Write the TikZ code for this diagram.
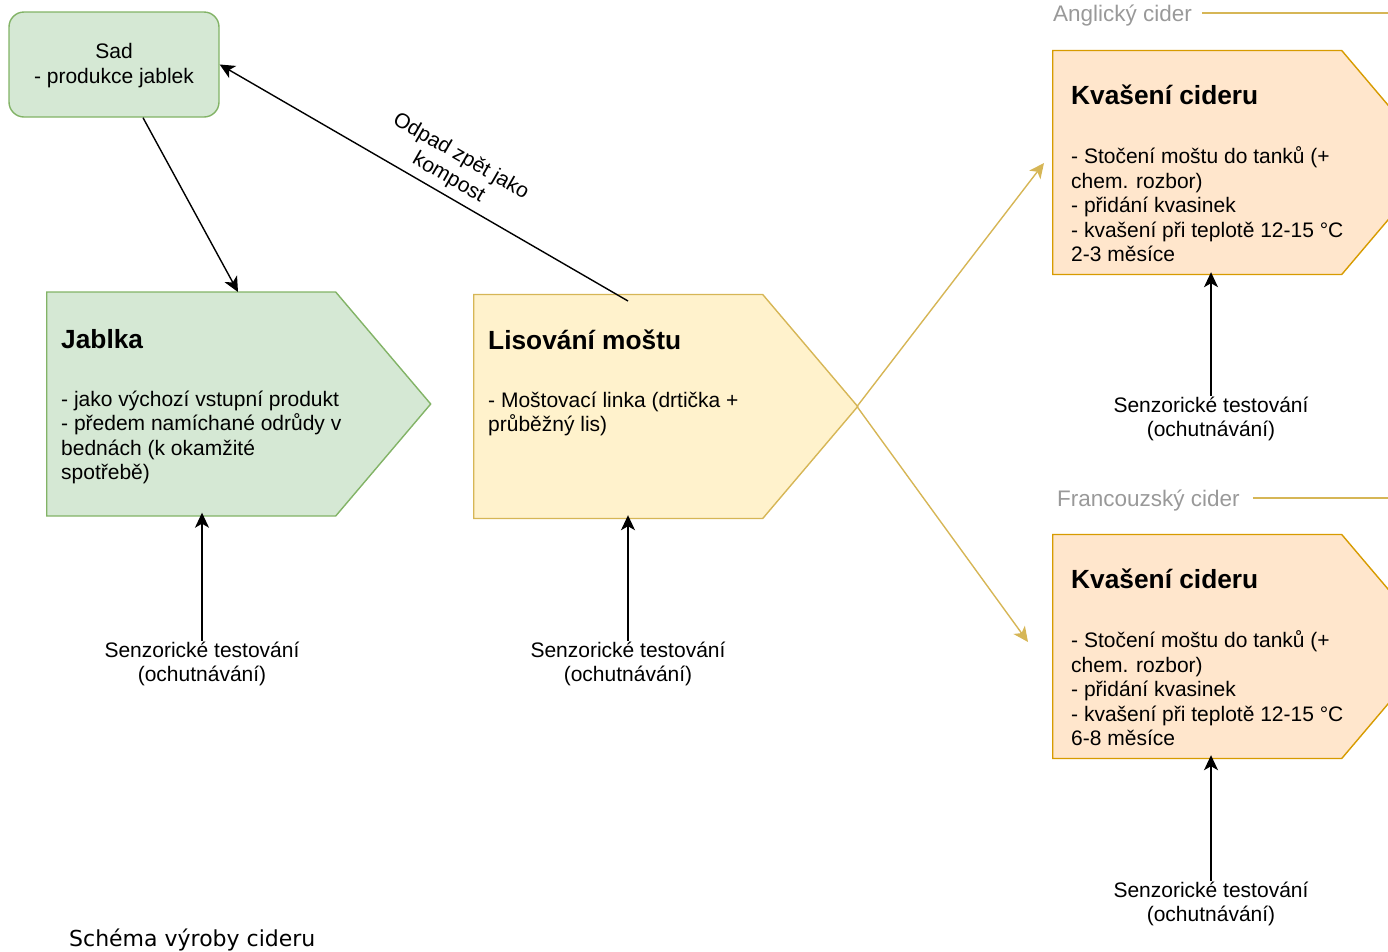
\documentclass[tikz,border=0pt]{standalone}
\usepackage{fontspec}
\setmainfont{Liberation Sans}
\newfontfamily\captionfont{DejaVu Sans}
\usetikzlibrary{shapes.symbols,arrows.meta,positioning}

\definecolor{applefill}{HTML}{D5E8D4}
\definecolor{appleline}{HTML}{82B366}
\definecolor{mustfill}{HTML}{FFF2CC}
\definecolor{mustline}{HTML}{D6B656}
\definecolor{fermfill}{HTML}{FFE6CC}
\definecolor{fermline}{HTML}{D79B00}
\definecolor{labelgray}{HTML}{999999}

\newcommand{\steptitle}[1]{{\fontsize{26.3}{31}\selectfont\bfseries #1}}

\begin{document}
\begin{tikzpicture}[x=1pt,y=-1pt,
 font=\fontsize{21}{24.5}\selectfont,
 every node/.style={inner sep=0pt},
 stepnode/.style={signal,signal to=east,signal pointer angle=99.4,
  minimum width=384pt,minimum height=224pt,line width=1.4pt,anchor=west},
 apple/.style={draw=appleline,fill=applefill},
 must/.style={draw=mustline,fill=mustfill},
 ferm/.style={draw=fermline,fill=fermfill},
 steptext/.style={anchor=north west,align=left},
 senz/.style={anchor=north,align=center},
 grouplabel/.style={anchor=base west,text=labelgray,font=\fontsize{22.5}{26}\selectfont},
 groupline/.style={draw=mustline,line width=1.6pt},
 arr/.style={-{Stealth[length=15pt,width=14pt,inset=4pt]},line width=1.4pt},
 goldarr/.style={-{Stealth[length=15pt,width=14pt,inset=4pt]},draw=mustline,fill=mustline,line width=1.4pt}]

 \useasboundingbox (0,0) rectangle (1388,951);
 \clip (0,0) rectangle (1388,951);

 \node[apple,rounded corners=15pt,line width=1.4pt,minimum width=210pt,minimum height=105pt,align=center] (sad) at (114,64.5) {\rule{0pt}{17pt}Sad\\- produkce jablek};

 \node[stepnode,apple] (jab) at (46,404) {};
 \node[steptext] (jabtxt) at (61,327.3) {\rule{0pt}{21pt}\steptitle{Jablka}\\[33pt]- jako výchozí vstupní produkt\\- předem namíchané odrůdy v\\bednách (k okamžité\\spotřebě)};

 \node[stepnode,must] (lis) at (473,406.5) {};
 \node[steptext] (listxt) at (488,328.3) {\rule{0pt}{21pt}\steptitle{Lisování moštu}\\[33pt]- Moštovací linka (drtička +\\průběžný lis)};

 \node[stepnode,ferm] (eng) at (1052,162.5) {};
 \node[steptext] (engtxt) at (1071,83.3) {\rule{0pt}{21pt}\steptitle{Kvašení cideru}\\[34.5pt]- Stočení moštu do tanků (+\\chem. rozbor)\\- přidání kvasinek\\- kvašení při teplotě 12-15 °C\\2-3 měsíce};

 \node[stepnode,ferm] (fra) at (1052,646.5) {};
 \node[steptext] (fratxt) at (1071,567.3) {\rule{0pt}{21pt}\steptitle{Kvašení cideru}\\[34.5pt]- Stočení moštu do tanků (+\\chem. rozbor)\\- přidání kvasinek\\- kvašení při teplotě 12-15 °C\\6-8 měsíce};

 \node[grouplabel] (englab) at (1053,21.5) {Anglický cider};
 \node[grouplabel] (fralab) at (1057,506) {Francouzský cider};
 \draw[groupline] ([shift={(10,-8.5)}]englab.base east) -- +(200,0);
 \draw[groupline] ([shift={(13,-8)}]fralab.base east) -- +(200,0);

 \node[senz] (senjab) at (202,641) {\rule{0pt}{16pt}Senzorické testování\\(ochutnávání)};
 \node[senz] (senlis) at (628,641) {\rule{0pt}{16pt}Senzorické testování\\(ochutnávání)};
 \node[senz] (seneng) at (1211,396) {\rule{0pt}{16pt}Senzorické testování\\(ochutnávání)};
 \node[senz] (senfra) at (1211,881) {\rule{0pt}{16pt}Senzorické testování\\(ochutnávání)};

 \node[anchor=base west,font=\captionfont\fontsize{22}{26}\selectfont] (title) at (69,946) {Schéma výroby cideru};

 \draw[arr] ([shift={(29,0)}]sad.south) -- ([shift={(192,-112)}]jab.west);
 \draw[arr] ([shift={(155,-105.5)}]lis.west) -- (sad.east)
  node[pos=0.46,sloped,above,inner sep=6pt,align=center] (odpad) {Odpad zpět jako\\kompost};

 \draw[arr,shorten >=-4pt] (senjab.north) -- (senjab.north |- jab.south);
 \draw[arr,shorten >=-4pt] (senlis.north) -- (senlis.north |- lis.south);
 \draw[arr,shorten >=-3pt] (seneng.north) -- (seneng.north |- eng.south);
 \draw[arr,shorten >=-4pt] (senfra.north) -- (senfra.north |- fra.south);

 \draw[goldarr] ([shift={(384,0)}]lis.west) -- ([shift={(-8,0.5)}]eng.west);
 \draw[goldarr] ([shift={(384,0)}]lis.west) -- ([shift={(-24,-4.5)}]fra.west);

\end{tikzpicture}
\end{document}
